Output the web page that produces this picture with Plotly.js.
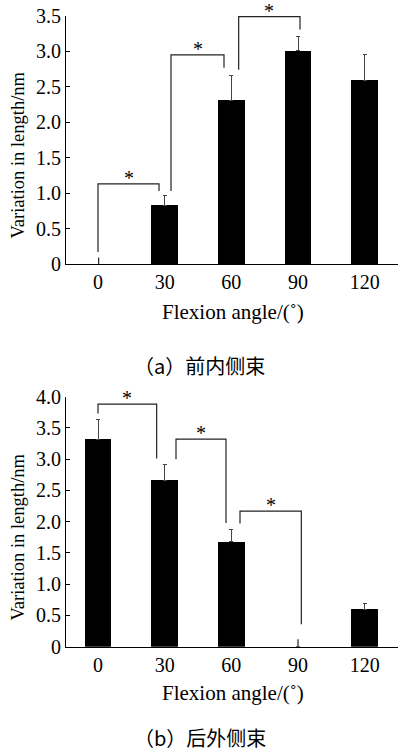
<!DOCTYPE html>
<html>
<head>
<meta charset="utf-8">
<script src="https://cdn.plot.ly/plotly-3.0.1.min.js"></script>
<style>
html,body{margin:0;padding:0;background:#fff;}
#chart{width:398px;height:754px;}
</style>
</head>
<body>
<div id="chart"></div>
<script>
// ---- data ----
const angleLabels = ['0', '30', '60', '90', '120'];
const anglePos = [0, 1, 2, 3, 4];

// (a) anteromedial bundle
const valuesA = [0, 0.83, 2.31, 3.01, 2.59];
const errorsA = [0, 0.13, 0.35, 0.20, 0.37];
// (b) posterolateral bundle
const valuesB = [3.32, 2.66, 1.68, 0, 0.60];
const errorsB = [0.32, 0.26, 0.20, 0, 0.09];

// significance brackets (a)
const brA_xLeft = [0.0, 1.095, 2.11];
const brA_xRight = [0.915, 1.89, 3.03];
const brA_top = [1.13, 2.95, 3.49];
const brA_leftEnd = [0.17, 1.03, 2.74];
const brA_rightEnd = [1.03, 2.77, 3.31];
const stubA_x = [0.01];
const stubA_y = [0.09];

// significance brackets (b)
const brB_xLeft = [0.0, 1.17, 2.13];
const brB_xRight = [0.88, 1.92, 3.05];
const brB_top = [3.88, 3.32, 2.17];
const brB_leftEnd = [3.73, 3.00, 1.97];
const brB_rightEnd = [3.01, 1.98, 0.36];
const stubB_x = [3.0];
const stubB_y = [0.12];

const yTicksA = [0, 0.5, 1.0, 1.5, 2.0, 2.5, 3.0, 3.5];
const yTicksB = [0, 0.5, 1.0, 1.5, 2.0, 2.5, 3.0, 3.5, 4.0];
const fmt = v => v === 0 ? '0' : v.toFixed(1);

const xTitle = 'Flexion angle/(˚)';
const yTitle = 'Variation in length/nm';
const captionA = '（a）前内侧束';
const captionB = '（b）后外侧束';

// ---- build traces ----
function barTrace(vals, errs, xa, ya) {
  return {
    type: 'bar', x: anglePos, y: vals, xaxis: xa, yaxis: ya,
    width: 0.4, marker: {color: '#000', line: {width: 0}},
    error_y: {type: 'data', symmetric: false, array: errs, arrayminus: errs.map(() => 0),
              color: '#444', thickness: 1, width: 2},
    showlegend: false, hoverinfo: 'skip'
  };
}
function bracketTrace(xl, xr, top, le, re, sx, sy, xa, ya) {
  const x = [], y = [];
  for (let i = 0; i < xl.length; i++) {
    x.push(xl[i], xl[i], xr[i], xr[i], null);
    y.push(le[i], top[i], top[i], re[i], null);
  }
  for (let i = 0; i < sx.length; i++) {
    x.push(sx[i], sx[i], null);
    y.push(0, sy[i], null);
  }
  return {type: 'scatter', mode: 'lines', x: x, y: y, xaxis: xa, yaxis: ya,
          line: {color: '#222', width: 1.2}, cliponaxis: false,
          showlegend: false, hoverinfo: 'skip'};
}
function stars(xl, xr, top, xa, ya) {
  return xl.map((v, i) => ({
    x: (v + xr[i]) / 2, y: top[i], xref: xa, yref: ya,
    text: '*', showarrow: false, yanchor: 'bottom', yshift: -7,
    font: {family: 'Liberation Serif, serif', size: 20, color: '#000'}
  }));
}

const traces = [
  barTrace(valuesA, errorsA, 'x', 'y'),
  bracketTrace(brA_xLeft, brA_xRight, brA_top, brA_leftEnd, brA_rightEnd, stubA_x, stubA_y, 'x', 'y'),
  barTrace(valuesB, errorsB, 'x2', 'y2'),
  bracketTrace(brB_xLeft, brB_xRight, brB_top, brB_leftEnd, brB_rightEnd, stubB_x, stubB_y, 'x2', 'y2')
];

const serif = 'Liberation Serif, Times New Roman, serif';
const cjk = 'Noto Sans CJK SC, sans-serif';
const H = 754;
const py = p => 1 - p / H;
const px = p => (p - 66) / 332;

const xCommon = {
  range: [-0.48, 4.5], tickvals: anglePos, ticktext: angleLabels,
  showline: true, linecolor: '#000', linewidth: 1.3, ticks: '', showgrid: false,
  zeroline: false, tickfont: {family: serif, size: 20, color: '#000'}, fixedrange: true
};
const yCommon = {
  showline: true, linecolor: '#000', linewidth: 1, ticks: 'inside', ticklen: 4,
  tickcolor: '#000', showgrid: false, zeroline: false,
  tickfont: {family: serif, size: 20, color: '#000'}, fixedrange: true
};

function yTitleAnn(cy) {
  return {text: yTitle, textangle: -90, xref: 'paper', yref: 'paper', x: px(17.5), y: py(cy),
          xanchor: 'center', yanchor: 'middle', showarrow: false,
          font: {family: serif, size: 18.5, color: '#000'}};
}

const layout = {
  width: 398, height: 754,
  margin: {l: 66, r: 0, t: 0, b: 0},
  paper_bgcolor: '#fff', plot_bgcolor: '#fff',
  bargap: 0,
  xaxis: Object.assign({}, xCommon, {domain: [0, 1], anchor: 'y'}),
  yaxis: Object.assign({}, yCommon, {domain: [py(264), py(16)], anchor: 'x', range: [0, 3.5],
                                     tickvals: yTicksA, ticktext: yTicksA.map(fmt)}),
  xaxis2: Object.assign({}, xCommon, {domain: [0, 1], anchor: 'y2'}),
  yaxis2: Object.assign({}, yCommon, {domain: [py(646.7), py(396.7)], anchor: 'x2', range: [0, 4.0],
                                      tickvals: yTicksB, ticktext: yTicksB.map(fmt)}),
  annotations: [
    ...stars(brA_xLeft, brA_xRight, brA_top, 'x', 'y'),
    ...stars(brB_xLeft, brB_xRight, brB_top, 'x2', 'y2'),
    yTitleAnn(155),
    yTitleAnn(537),
    {text: xTitle, xref: 'paper', yref: 'paper', x: px(233.5), y: py(311.7),
     xanchor: 'center', yanchor: 'middle', showarrow: false, font: {family: serif, size: 21, color: '#000'}},
    {text: xTitle, xref: 'paper', yref: 'paper', x: px(233.5), y: py(693.3),
     xanchor: 'center', yanchor: 'middle', showarrow: false, font: {family: serif, size: 21, color: '#000'}},
    {text: captionA, xref: 'paper', yref: 'paper', x: px(199.5), y: py(365.7),
     xanchor: 'center', yanchor: 'middle', showarrow: false, font: {family: cjk, size: 20, color: '#000'}},
    {text: captionB, xref: 'paper', yref: 'paper', x: px(199.5), y: 0,
     xanchor: 'center', yanchor: 'bottom', showarrow: false, font: {family: cjk, size: 20, color: '#000'}}
  ]
};

Plotly.newPlot('chart', traces, layout, {staticPlot: true, displayModeBar: false});
</script>
</body>
</html>
